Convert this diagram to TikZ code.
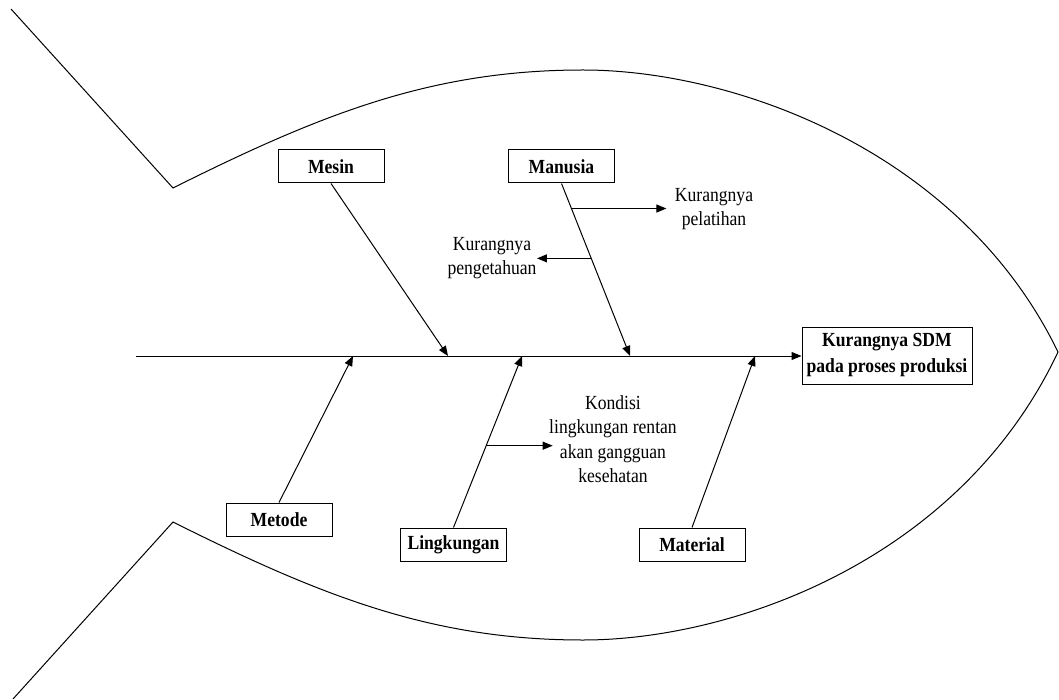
\documentclass[tikz,border=0pt]{standalone}
\usepackage{fontspec}
\setmainfont[FakeStretch=0.88]{Liberation Serif}
\usetikzlibrary{arrows.meta,calc}
\begin{document}
\begin{tikzpicture}[x=1pt,y=-1pt,
  line width=1pt,
  every node/.style={font=\fontsize{20}{24.5}\selectfont},
  cause/.style={draw, line width=1pt, minimum width=106pt, minimum height=33pt,
    inner sep=0pt, font=\fontsize{20}{24.5}\selectfont\bfseries},
  effect/.style={draw, line width=1pt, minimum width=170pt, minimum height=57pt,
    align=center, inner sep=0pt, font=\fontsize{20}{26}\selectfont\bfseries},
  note/.style={align=center, inner sep=0pt},
  arr/.style={-{Triangle[length=10pt,width=8pt]}}]

\useasboundingbox (0,0) rectangle (1059,700);

% fish outline: tail fins and body
\draw[line join=miter] (11,9) -- (173,188)
  .. controls (323,113) and (433,70) .. (583,70)
  .. controls (733,70) and (960,150) .. (1058,352)
  .. controls (960,560) and (733,640) .. (583,640)
  .. controls (433,640) and (323,597) .. (173,522)
  -- (13,699);

% categories
\node[cause] (mesin) at (331,166.5) {Mesin};
\node[cause] (manusia) at (561.5,166.5) {Manusia};
\node[cause] (metode) at (279,519.5) {Metode};
\node[cause] (lingkungan) at (453.5,544.5) {Lingkungan};
\node[cause] (material) at (692,544.5) {Material};

% effect
\node[effect] (head) at (887,355.5) {Kurangnya SDM\\pada proses produksi};

% sub-causes
\node[note] (pelatihan) at (714,209) {Kurangnya\\pelatihan};
\node[note] (pengetahuan) at (492,258) {Kurangnya\\pengetahuan};
\node[note] (kondisi) at (613,439) {Kondisi\\lingkungan rentan\\akan gangguan\\kesehatan};

% spine and where the bones meet it
\coordinate (tail) at (136,356);
\coordinate (tMesin) at (448,356);
\coordinate (tManusia) at (630,356);
\coordinate (tMetode) at (353,356);
\coordinate (tLing) at (522,356);
\coordinate (tMaterial) at (755,356);

\draw[arr] (tail) -- (tail -| head.west);

% main bones
\draw[arr] (mesin.south) -- (tMesin);
\draw[arr] (manusia.south) -- (tManusia);
\draw[arr] (metode.north) -- (tMetode);
\draw[arr] (lingkungan.north) -- (tLing);
\draw[arr] (material.north) -- (tMaterial);

% small bones
\coordinate (b1) at ($(manusia.south)!0.145!(tManusia)$);
\coordinate (b2) at ($(manusia.south)!0.434!(tManusia)$);
\coordinate (b3) at ($(lingkungan.north)!0.477!(tLing)$);
\draw[arr, shorten >=8pt] (b1) -- (b1 -| pelatihan.west);
\draw[arr] (b2) -- (b2 -| pengetahuan.east);
\draw[arr, shorten >=-4pt] (b3) -- (b3 -| kondisi.west);
\end{tikzpicture}
\end{document}
